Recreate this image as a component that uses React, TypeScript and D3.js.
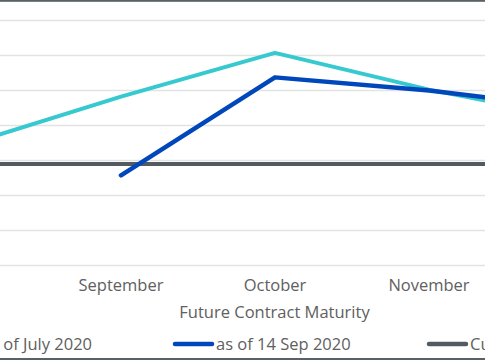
import React from 'react';
import * as d3 from 'd3';

const categories = ['August', 'September', 'October', 'November', 'December'];
const julySeries = [40.9, 43.65, 46.15, 44.05, 42.35];
const sepSeries: (number | null)[] = [null, 39.15, 44.75, 44.0, 42.95];
const currentSeries = [39.8, 39.8, 39.8, 39.8, 39.8];
const gridValues = [34, 36, 38, 40, 42, 44, 46, 48];

const legendItems = [
  { label: 'End of July 2020', color: '#36c9cf' },
  { label: 'as of 14 Sep 2020', color: '#0047bb' },
  { label: 'Current Price', color: '#535b60' },
];

const W = 485;
const H = 360;
const font = '"Open Sans", sans-serif';
const textColor = '#606060';

export default function App() {
  // plot area is wider than the visible crop, so first and last categories fall off screen
  const x = d3.scalePoint<string>().domain(categories).range([-33, 583]);
  const y = d3.scaleLinear().domain([34, 48]).range([265.5, 20.5]);

  const line = d3.line<number | null>()
    .defined(d => d != null)
    .x((_, i) => x(categories[i]) as number)
    .y(d => y(d as number));

  const series = [
    { data: julySeries, color: legendItems[0].color, width: 4 },
    { data: sepSeries, color: legendItems[1].color, width: 4.5 },
  ];

  // only the tick labels that sit inside the visible crop
  const visibleTicks = categories.filter(c => {
    const px = x(c) as number;
    return px > 0 && px < W;
  });

  return (
    <svg width={W} height={H} style={{ position: 'absolute', left: 0, top: 0, display: 'block', background: '#fff' }}>
      <rect x={0} y={0} width={W} height={H} fill="#fff" />
      {gridValues.map(v => (
        <line key={v} x1={0} x2={W} y1={y(v)} y2={y(v)} stroke="#e2e3e3" strokeWidth={1.5} />
      ))}
      <path
        d={line(currentSeries) || ''}
        fill="none"
        stroke={legendItems[2].color}
        strokeWidth={4}
      />
      {series.map((s, i) => (
        <path
          key={i}
          d={line(s.data) || ''}
          fill="none"
          stroke={s.color}
          strokeWidth={s.width}
          strokeLinecap="round"
          strokeLinejoin="round"
        />
      ))}
      {visibleTicks.map(c => (
        <text
          key={c}
          x={x(c)}
          y={291}
          textAnchor="middle"
          fontFamily={font}
          fontSize={16.5}
          fill={textColor}
        >
          {c}
        </text>
      ))}
      <text x={274.5} y={318} textAnchor="middle" fontFamily={font} fontSize={16.5} fill={textColor}>
        Future Contract Maturity
      </text>
      {legendItems.map((item, i) => {
        const x0 = -79 + i * 254;
        return (
          <g key={item.label}>
            <line x1={x0} x2={x0 + 37} y1={344} y2={344} stroke={item.color} strokeWidth={4.5} strokeLinecap="round" />
            {i === 0 ? (
              <text x={96} y={349.5} textAnchor="end" fontFamily={font} fontSize={16.5} fill={textColor}>
                <tspan dx={-4}>{item.label}</tspan>
              </text>
            ) : (
              <text x={x0 + 41} y={349.5} fontFamily={font} fontSize={16.5} fill={textColor}>
                {item.label}
              </text>
            )}
          </g>
        );
      })}
      <rect x={0} y={0} width={W} height={1.8} fill="#5a6064" />
      <rect x={0} y={358} width={W} height={2} fill="#5a6064" />
    </svg>
  );
}
